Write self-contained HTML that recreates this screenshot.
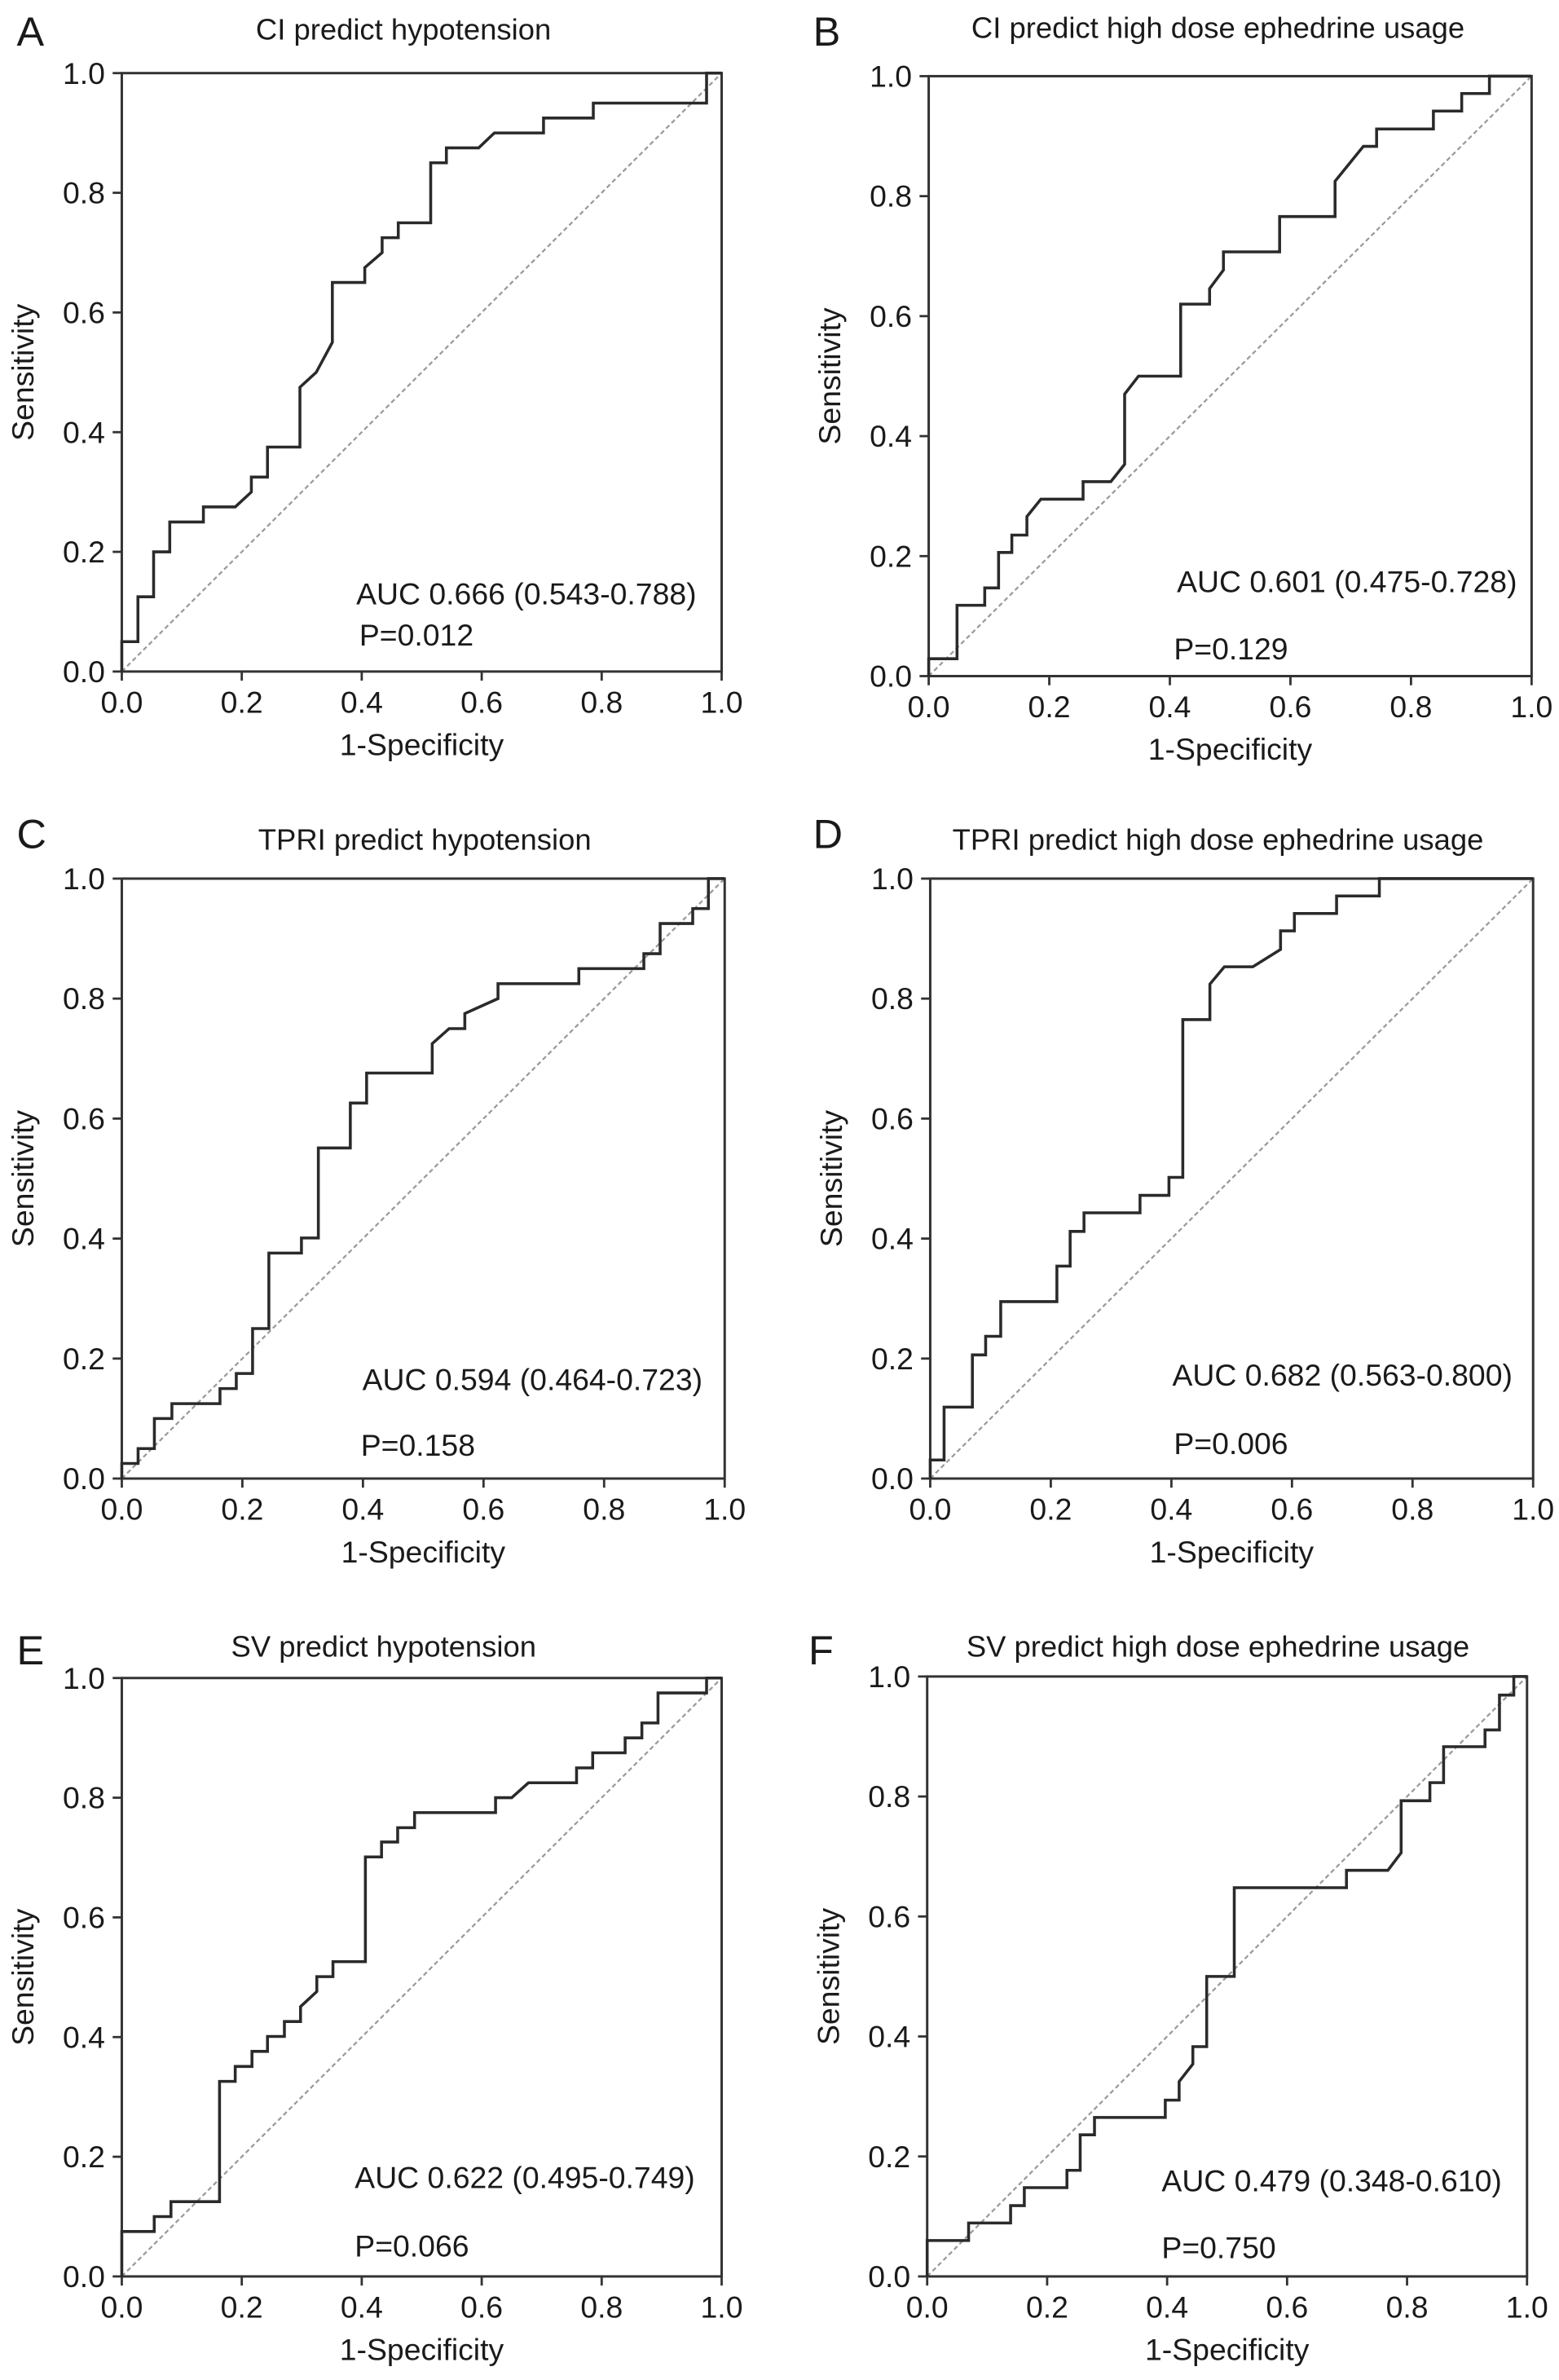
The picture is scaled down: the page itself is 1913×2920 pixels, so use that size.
<!DOCTYPE html>
<html><head><meta charset="utf-8">
<style>
html,body{margin:0;padding:0;background:#fff;}
svg{display:block;}
text{font-family:"Liberation Sans",Arial,sans-serif;fill:#1a1a1a;}
</style></head>
<body>
<svg id="fig" width="1913" height="2920" viewBox="0 0 1024 1563" xmlns="http://www.w3.org/2000/svg"></svg>
<script>
// Panel A: CI predict hypotension
const fprA=[0,0,0.027,0.027,0.053,0.053,0.08,0.08,0.136,0.136,0.189,0.216,0.216,0.243,0.243,0.297,0.297,0.324,0.351,0.351,0.405,0.405,0.434,0.434,0.461,0.461,0.515,0.515,0.541,0.541,0.595,0.621,0.703,0.703,0.786,0.786,0.975,0.975,1];
const tprA=[0,0.05,0.05,0.125,0.125,0.2,0.2,0.25,0.25,0.275,0.275,0.30,0.325,0.325,0.375,0.375,0.475,0.5,0.55,0.65,0.65,0.675,0.70,0.725,0.725,0.75,0.75,0.85,0.85,0.875,0.875,0.90,0.90,0.925,0.925,0.95,0.95,1,1];
// Panel B: CI predict high dose ephedrine usage
const fprB=[0,0,0.047,0.047,0.093,0.093,0.116,0.116,0.138,0.138,0.163,0.163,0.186,0.256,0.256,0.302,0.325,0.325,0.348,0.418,0.418,0.466,0.466,0.489,0.489,0.582,0.582,0.674,0.674,0.721,0.743,0.743,0.837,0.837,0.884,0.884,0.93,0.93,1];
const tprB=[0,0.029,0.029,0.118,0.118,0.147,0.147,0.206,0.206,0.235,0.235,0.266,0.295,0.295,0.324,0.324,0.353,0.47,0.5,0.5,0.62,0.62,0.646,0.677,0.707,0.707,0.766,0.766,0.825,0.883,0.883,0.912,0.912,0.942,0.942,0.971,0.971,1,1];
// Panel C: TPRI predict hypotension
const fprC=[0,0,0.027,0.027,0.054,0.054,0.083,0.083,0.163,0.163,0.19,0.19,0.217,0.217,0.244,0.244,0.298,0.298,0.326,0.326,0.379,0.379,0.406,0.406,0.515,0.515,0.543,0.569,0.569,0.624,0.624,0.758,0.758,0.866,0.866,0.893,0.893,0.947,0.947,0.973,0.973,1];
const tprC=[0,0.025,0.025,0.05,0.05,0.1,0.1,0.125,0.125,0.15,0.15,0.175,0.175,0.25,0.25,0.376,0.376,0.401,0.401,0.551,0.551,0.626,0.626,0.676,0.676,0.725,0.75,0.75,0.775,0.80,0.825,0.825,0.85,0.85,0.875,0.875,0.925,0.925,0.95,0.95,1,1];
// Panel D: TPRI predict high dose ephedrine usage
const fprD=[0,0,0.023,0.023,0.07,0.07,0.092,0.092,0.117,0.117,0.21,0.21,0.232,0.232,0.255,0.255,0.348,0.348,0.396,0.396,0.419,0.419,0.464,0.464,0.488,0.535,0.581,0.581,0.604,0.604,0.674,0.674,0.745,0.745,1];
const tprD=[0,0.031,0.031,0.119,0.119,0.206,0.206,0.237,0.237,0.295,0.295,0.354,0.354,0.412,0.412,0.443,0.443,0.472,0.472,0.502,0.502,0.765,0.765,0.824,0.853,0.853,0.882,0.913,0.913,0.942,0.942,0.971,0.971,1,1];
// Panel E: SV predict hypotension
const fprE=[0,0,0.054,0.054,0.082,0.082,0.163,0.163,0.189,0.189,0.217,0.217,0.243,0.243,0.271,0.271,0.298,0.298,0.325,0.325,0.352,0.352,0.406,0.406,0.433,0.433,0.46,0.46,0.488,0.488,0.623,0.623,0.65,0.678,0.758,0.758,0.785,0.785,0.839,0.839,0.867,0.867,0.894,0.894,0.975,0.975,1];
const tprE=[0,0.075,0.075,0.1,0.1,0.125,0.125,0.326,0.326,0.351,0.351,0.376,0.376,0.401,0.401,0.426,0.426,0.451,0.476,0.501,0.501,0.526,0.526,0.701,0.701,0.726,0.726,0.75,0.75,0.775,0.775,0.80,0.80,0.825,0.825,0.85,0.85,0.875,0.875,0.90,0.90,0.925,0.925,0.975,0.975,1,1];
// Panel F: SV predict high dose ephedrine usage
const fprF=[0,0,0.069,0.069,0.139,0.139,0.162,0.162,0.233,0.233,0.255,0.255,0.279,0.279,0.397,0.397,0.42,0.42,0.443,0.443,0.466,0.466,0.512,0.512,0.699,0.699,0.768,0.79,0.79,0.838,0.838,0.861,0.861,0.93,0.93,0.954,0.954,0.978,0.978,1];
const tprF=[0,0.06,0.06,0.089,0.089,0.118,0.118,0.148,0.148,0.177,0.177,0.236,0.236,0.265,0.265,0.294,0.294,0.325,0.354,0.383,0.383,0.5,0.5,0.648,0.648,0.677,0.677,0.706,0.793,0.793,0.823,0.823,0.883,0.883,0.911,0.911,0.969,0.969,1,1];

const ticks=[0,0.2,0.4,0.6,0.8,1.0];
const tickLabels=["0.0","0.2","0.4","0.6","0.8","1.0"];

const panels=[
 {id:'a',letter:'A',title:'CI predict hypotension',auc:'AUC 0.666 (0.543-0.788)',p:'P=0.012',fpr:fprA,tpr:tprA,x0:80,x1:474,y0:48,y1:441,tx:265,ty:26,lx:11,ly:30,ax:234,ay:397,px:236,py:424},
 {id:'b',letter:'B',title:'CI predict high dose ephedrine usage',auc:'AUC 0.601 (0.475-0.728)',p:'P=0.129',fpr:fprB,tpr:tprB,x0:610,x1:1006,y0:50,y1:444,tx:800,ty:25,lx:534,ly:30,ax:773,ay:389,px:771,py:433},
 {id:'c',letter:'C',title:'TPRI predict hypotension',auc:'AUC 0.594 (0.464-0.723)',p:'P=0.158',fpr:fprC,tpr:tprC,x0:80,x1:476,y0:577,y1:971,tx:279,ty:558,lx:11,ly:557,ax:238,ay:913,px:237,py:956},
 {id:'d',letter:'D',title:'TPRI predict high dose ephedrine usage',auc:'AUC 0.682 (0.563-0.800)',p:'P=0.006',fpr:fprD,tpr:tprD,x0:611,x1:1007,y0:577,y1:971,tx:800,ty:558,lx:534,ly:557,ax:770,ay:910,px:771,py:955},
 {id:'e',letter:'E',title:'SV predict hypotension',auc:'AUC 0.622 (0.495-0.749)',p:'P=0.066',fpr:fprE,tpr:tprE,x0:80,x1:474,y0:1102,y1:1495,tx:252,ty:1088,lx:11,ly:1093,ax:233,ay:1437,px:233,py:1482},
 {id:'f',letter:'F',title:'SV predict high dose ephedrine usage',auc:'AUC 0.479 (0.348-0.610)',p:'P=0.750',fpr:fprF,tpr:tprF,x0:609,x1:1003,y0:1101,y1:1495,tx:800,ty:1088,lx:531,ly:1093,ax:763,ay:1439,px:763,py:1483}
];

const NS='http://www.w3.org/2000/svg';
const svg=document.getElementById('fig');
function mk(tag,attrs,parent,txt){const e=document.createElementNS(NS,tag);for(const k in attrs)e.setAttribute(k,attrs[k]);if(txt!==undefined)e.textContent=txt;parent.appendChild(e);return e;}

panels.forEach(P=>{
 const g=mk('g',{},svg);
 
 
 const sx=v=>P.x0+v*(P.x1-P.x0);
 const sy=v=>P.y1-v*(P.y1-P.y0);
 const L=mk('text',{x:P.lx,y:P.ly,'font-size':27},g,P.letter);
 
 
 const T=mk('text',{x:P.tx,y:P.ty,'font-size':19.5,'text-anchor':'middle'},g,P.title);
 
 
 const dg=mk('line',{x1:sx(0),y1:sy(0),x2:sx(1),y2:sy(1),stroke:'#9a9a9a','stroke-width':1.2,'stroke-dasharray':'3 2'},g);
 
 
 const fr=mk('rect',{x:P.x0,y:P.y0,width:P.x1-P.x0,height:P.y1-P.y0,fill:'none',stroke:'#333','stroke-width':1.6},g);
 
 
 ticks.forEach((t,i)=>{
  mk('line',{x1:sx(t),y1:P.y1,x2:sx(t),y2:P.y1+6,stroke:'#333','stroke-width':1.5},g);
  mk('line',{x1:P.x0,y1:sy(t),x2:P.x0-6,y2:sy(t),stroke:'#333','stroke-width':1.5},g);
  const xl=mk('text',{x:sx(t),y:P.y1+27,'font-size':20,'text-anchor':'middle'},g,tickLabels[i]);
  
  
  const yl=mk('text',{x:P.x0-11,y:sy(t)+7,'font-size':20,'text-anchor':'end'},g,tickLabels[i]);
  
  
 });
 const xt=mk('text',{x:(P.x0+P.x1)/2,y:P.y1+55,'font-size':20,'text-anchor':'middle'},g,'1-Specificity');
 
 
 const cy=(P.y0+P.y1)/2;
 const yt=mk('text',{x:P.x0-58,y:cy,'font-size':20,'text-anchor':'middle',transform:'rotate(-90 '+(P.x0-58)+' '+cy+')'},g,'Sensitivity');
 
 
 const pts=P.fpr.map((f,i)=>sx(f).toFixed(1)+','+sy(P.tpr[i]).toFixed(1)).join(' ');
 const pl=mk('polyline',{points:pts,fill:'none',stroke:'#2a2a2a','stroke-width':1.9,'stroke-linejoin':'miter'},g);
 
 
 const at=mk('text',{x:P.ax,y:P.ay,'font-size':20},g,P.auc);
 
 
 const pt=mk('text',{x:P.px,y:P.py,'font-size':20},g,P.p);
 
 
});
</script>
</body></html>
